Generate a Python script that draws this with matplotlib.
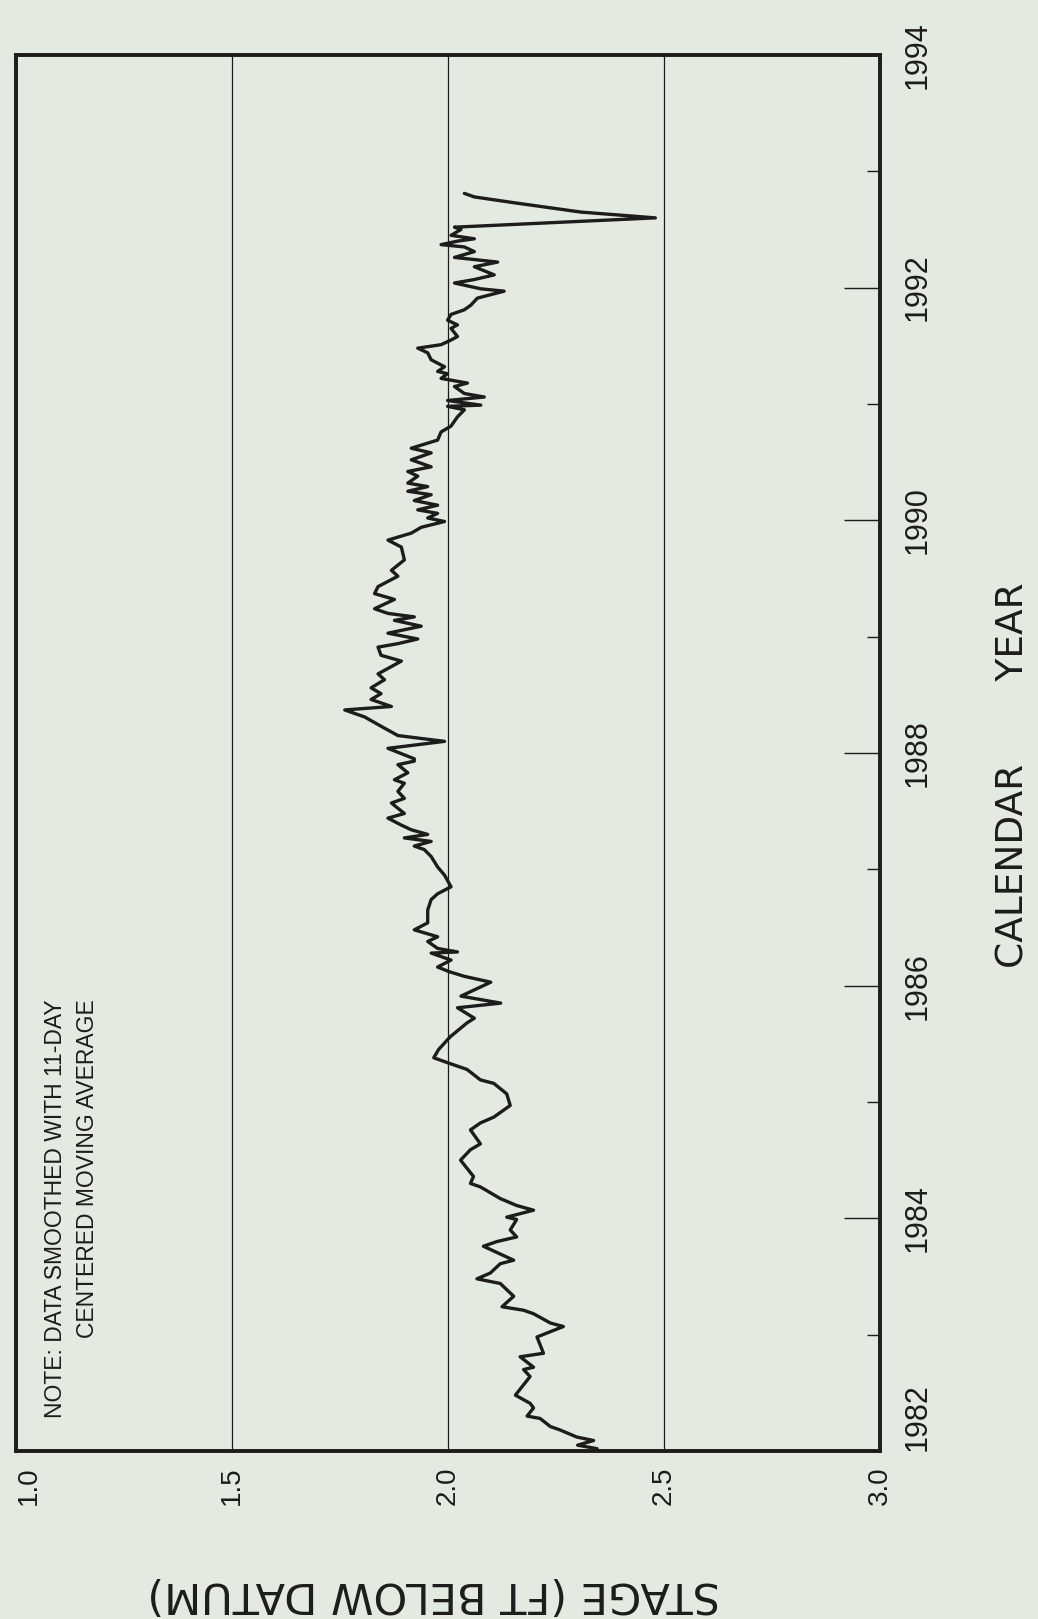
"""Stage hydrograph, 1982-1993, reproduced as a page scanned sideways.

The page is rotated 90 degrees, so the axes here are drawn directly in the
rotated frame: stage runs left-to-right along the bottom, calendar year runs
bottom-to-top on the right.
"""

import matplotlib

matplotlib.use("Agg")
import matplotlib.pyplot as plt

W, H = 1038, 1619
BG = "#e4e9e2"
INK = "#1c1c1c"
NARROW = ["Liberation Sans", "DejaVu Sans"]
WIDE = ["DejaVu Sans"]

# --- data (decimal year, stage in ft below datum) --------------------------
year_1982_85 = [1982.00, 1982.02, 1982.05, 1982.09, 1982.12, 1982.18, 1982.21,
                1982.28, 1982.30, 1982.37, 1982.41, 1982.48, 1982.64, 1982.70,
                1982.72, 1982.81, 1982.84, 1982.98, 1983.07, 1983.10, 1983.18,
                1983.21, 1983.24, 1983.33, 1983.44, 1983.48, 1983.53, 1983.61,
                1983.64, 1983.76, 1983.80, 1983.84, 1983.90, 1983.99, 1984.01,
                1984.07, 1984.11, 1984.17, 1984.27, 1984.30, 1984.36, 1984.50,
                1984.59, 1984.64, 1984.76, 1984.82, 1984.87, 1984.97, 1985.07,
                1985.16, 1985.19, 1985.28, 1985.33, 1985.38, 1985.45, 1985.56,
                1985.68]
stage_1982_85 = [2.340, 2.345, 2.300, 2.337, 2.298, 2.260, 2.237,
                 2.213, 2.183, 2.198, 2.190, 2.156, 2.190, 2.175,
                 2.198, 2.167, 2.221, 2.206, 2.267, 2.237, 2.198,
                 2.175, 2.125, 2.152, 2.121, 2.067, 2.098, 2.121,
                 2.152, 2.082, 2.113, 2.159, 2.144, 2.159, 2.136,
                 2.198, 2.159, 2.121, 2.075, 2.052, 2.059, 2.029,
                 2.052, 2.075, 2.052, 2.075, 2.106, 2.144, 2.136,
                 2.106, 2.075, 2.044, 2.005, 1.967, 1.978, 2.005,
                 2.044]

year_1985_88 = [1985.72, 1985.81, 1985.85, 1985.91, 1986.03, 1986.08, 1986.12,
                1986.16, 1986.22, 1986.28, 1986.29, 1986.32, 1986.38, 1986.42,
                1986.48, 1986.54, 1986.65, 1986.74, 1986.79, 1986.85, 1986.95,
                1987.02, 1987.11, 1987.17, 1987.20, 1987.24, 1987.27, 1987.30,
                1987.34, 1987.38, 1987.44, 1987.48, 1987.57, 1987.61, 1987.67,
                1987.74, 1987.77, 1987.83, 1987.90, 1987.93]
stage_1985_88 = [2.061, 2.022, 2.122, 2.030, 2.099, 2.038, 2.003,
                 1.976, 2.007, 1.961, 2.022, 1.976, 1.953, 1.976,
                 1.922, 1.953, 1.953, 1.961, 1.976, 2.007, 1.992,
                 1.976, 1.961, 1.945, 1.922, 1.961, 1.899, 1.953,
                 1.915, 1.892, 1.861, 1.899, 1.869, 1.899, 1.884,
                 1.899, 1.876, 1.907, 1.884, 1.922]

year_1988_90 = [1987.95, 1988.04, 1988.10, 1988.15, 1988.23, 1988.31, 1988.37,
                1988.40, 1988.46, 1988.51, 1988.56, 1988.63, 1988.68, 1988.79,
                1988.84, 1988.91, 1988.94, 1988.98, 1989.03, 1989.09, 1989.14,
                1989.17, 1989.20, 1989.24, 1989.32, 1989.37, 1989.43, 1989.52,
                1989.57, 1989.66, 1989.77, 1989.83, 1989.89, 1989.94, 1989.99,
                1990.02, 1990.06, 1990.09, 1990.13, 1990.17, 1990.22, 1990.25,
                1990.29, 1990.32]
stage_1988_90 = [1.922, 1.861, 1.992, 1.884, 1.845, 1.807, 1.761,
                 1.869, 1.822, 1.845, 1.822, 1.853, 1.838, 1.892,
                 1.845, 1.838, 1.884, 1.930, 1.861, 1.938, 1.876,
                 1.922, 1.861, 1.830, 1.876, 1.830, 1.838, 1.884,
                 1.869, 1.899, 1.892, 1.861, 1.915, 1.938, 1.992,
                 1.953, 1.976, 1.930, 1.976, 1.922, 1.961, 1.907,
                 1.953, 1.907]

year_1990_93 = [1990.38, 1990.42, 1990.46, 1990.52, 1990.58, 1990.62, 1990.69,
                1990.76, 1990.81, 1990.89, 1990.95, 1990.98, 1990.99, 1991.03,
                1991.06, 1991.09, 1991.15, 1991.18, 1991.22, 1991.26, 1991.28,
                1991.32, 1991.38, 1991.44, 1991.48, 1991.51, 1991.55, 1991.58,
                1991.65, 1991.68, 1991.72, 1991.77, 1991.81, 1991.85, 1991.91,
                1991.97, 1991.99, 1992.04, 1992.07, 1992.11, 1992.18, 1992.22,
                1992.26, 1992.31, 1992.35, 1992.37, 1992.40, 1992.42, 1992.45,
                1992.50, 1992.52, 1992.60, 1992.65, 1992.73, 1992.78, 1992.81]
stage_1990_93 = [1.930, 1.907, 1.961, 1.915, 1.961, 1.915, 1.976,
                 1.984, 2.007, 2.022, 2.038, 1.999, 2.076, 1.999,
                 2.084, 2.038, 2.015, 2.045, 1.984, 1.999, 1.976,
                 1.992, 1.961, 1.953, 1.930, 1.984, 2.007, 2.022,
                 2.007, 2.022, 1.999, 2.007, 2.038, 2.053, 2.068,
                 2.130, 2.076, 2.015, 2.061, 2.107, 2.061, 2.115,
                 2.015, 2.061, 2.038, 1.984, 2.022, 2.061, 2.007,
                 2.030, 2.015, 2.480, 2.307, 2.153, 2.061, 2.038]

stage_ticks = [1.0, 1.5, 2.0, 2.5, 3.0]
stage_labels = ["1.0", "1.5", "2.0", "2.5", "3.0"]
year_major = [1982, 1984, 1986, 1988, 1990, 1992, 1994]
year_minor = [1983, 1985, 1987, 1989, 1991, 1993]


def px(x, y):
    """Pixel position on the page -> figure fraction."""
    return x / W, 1 - y / H


def main() -> None:
    years = year_1982_85 + year_1985_88 + year_1988_90 + year_1990_93
    stage = stage_1982_85 + stage_1985_88 + stage_1988_90 + stage_1990_93

    fig = plt.figure(figsize=(W / 100, H / 100), dpi=100, facecolor=BG)
    left, top, right, bottom = 16, 55, 880, 1451
    ax = fig.add_axes([left / W, 1 - bottom / H, (right - left) / W, (bottom - top) / H])
    ax.set_facecolor(BG)

    ax.plot(stage, years, color=INK, lw=2.4, solid_joinstyle="round", solid_capstyle="round")
    ax.set_xlim(1.0, 3.0)
    ax.set_ylim(1982, 1994)

    # stage axis: gridlines only, labels read bottom-to-top
    ax.set_xticks(stage_ticks)
    ax.set_xticklabels(stage_labels, rotation=90, fontsize=20, family=NARROW, color=INK)
    ax.get_xticklabels()[0].set_horizontalalignment("left")
    ax.tick_params(axis="x", length=0, pad=11)
    ax.xaxis.grid(True, color=INK, lw=0.9)

    # year axis on the right, ticks pointing in
    ax.yaxis.tick_right()
    ax.set_yticks(year_major)
    ax.set_yticks(year_minor, minor=True)
    ax.set_yticklabels([str(y) for y in year_major], rotation=90, va="center",
                       fontsize=22, family=NARROW, color=INK)
    ax.get_yticklabels()[0].set_verticalalignment("bottom")
    ax.tick_params(axis="y", which="major", direction="in", length=26, width=1.0,
                   color=INK, pad=16)
    ax.tick_params(axis="y", which="minor", direction="in", length=9.5, width=1.0,
                   color=INK)
    for spine in ax.spines.values():
        spine.set_linewidth(2.8)
        spine.set_color(INK)

    fig.text(*px(434, 1594), "STAGE (FT BELOW DATUM)", rotation=180, ha="center",
             va="center", fontsize=31, family=WIDE, color=INK)
    fig.text(*px(1013, 775), "CALENDAR       YEAR", rotation=90, ha="center",
             va="center", fontsize=27, family=WIDE, color=INK)

    fig.text(*px(55, 1418), "NOTE: DATA SMOOTHED WITH 11-DAY", rotation=90,
             rotation_mode="anchor", ha="left", va="center", fontsize=16.5,
             family=NARROW, color=INK)
    fig.text(*px(87, 1338), "CENTERED MOVING AVERAGE", rotation=90,
             rotation_mode="anchor", ha="left", va="center", fontsize=16.5,
             family=NARROW, color=INK)

    fig.savefig("out.png", dpi=100, facecolor=BG)
    plt.close(fig)


if __name__ == "__main__":
    main()
